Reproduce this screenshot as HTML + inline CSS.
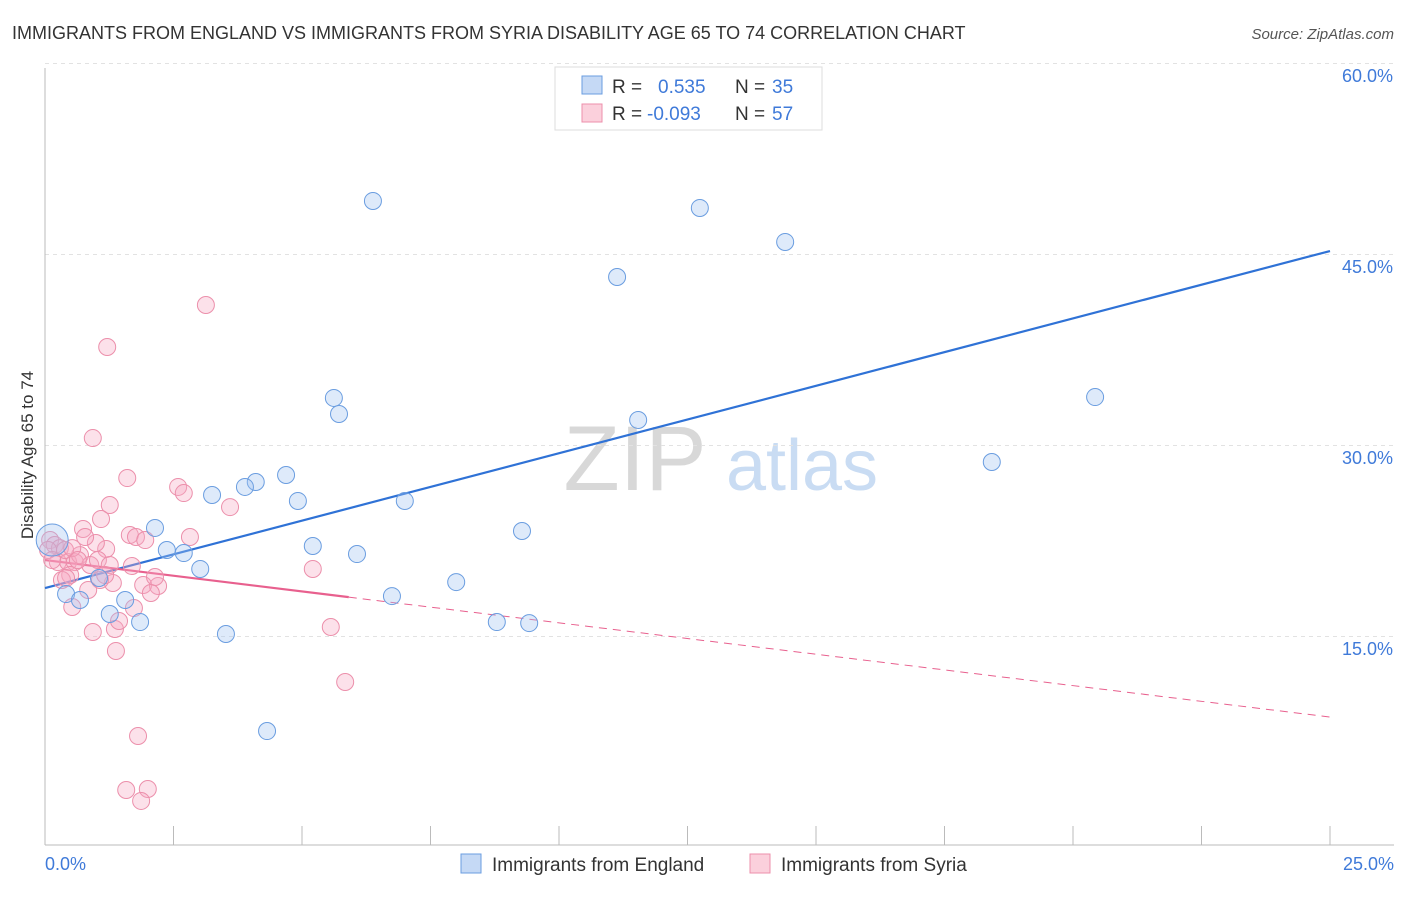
<!DOCTYPE html>
<html><head><meta charset="utf-8"><style>
body{margin:0;background:#fff;font-family:"Liberation Sans",sans-serif;}
svg text{font-family:"Liberation Sans",sans-serif;}
</style></head><body>
<svg id="chart" width="1406" height="892" xmlns="http://www.w3.org/2000/svg">
<text x="12" y="39" font-size="18" fill="#333">IMMIGRANTS FROM ENGLAND VS IMMIGRANTS FROM SYRIA DISABILITY AGE 65 TO 74 CORRELATION CHART</text>
<text x="1394" y="39" font-size="15" fill="#555" text-anchor="end" font-style="italic">Source: ZipAtlas.com</text>
<g>
<text x="635" y="490" font-size="92" fill="#d8d8d8" font-family="Liberation Serif" text-anchor="middle">ZIP</text>
<text x="802" y="490" font-size="72" fill="#c9dcf3" text-anchor="middle">atlas</text>
</g>
<g id="grid"></g>
<g id="axes"></g>
<text transform="translate(33,455) rotate(-90)" font-size="17" fill="#333" text-anchor="middle">Disability Age 65 to 74</text>
<g id="trends"></g>
<g id="points"></g>
<g>
<rect x="555" y="67" width="267" height="63" fill="#fff" stroke="#ddd"/>
<rect x="582" y="76" width="20" height="18" fill="#c5d9f5" stroke="#6a9de0"/>
<rect x="582" y="104" width="20" height="18" fill="#fbd0dc" stroke="#ec8fab"/>
<text x="612" y="93" font-size="19" fill="#333">R =</text>
<text x="658" y="93" font-size="19" fill="#3f7ad9">0.535</text>
<text x="735" y="93" font-size="19" fill="#333">N =</text>
<text x="772" y="93" font-size="19" fill="#3f7ad9">35</text>
<text x="612" y="120" font-size="19" fill="#333">R =</text>
<text x="647" y="120" font-size="19" fill="#3f7ad9">-0.093</text>
<text x="735" y="120" font-size="19" fill="#333">N =</text>
<text x="772" y="120" font-size="19" fill="#3f7ad9">57</text>
</g>
<g>
<rect x="461" y="854" width="20" height="19" fill="#c5d9f5" stroke="#6a9de0"/>
<text x="492" y="871" font-size="19" fill="#333">Immigrants from England</text>
<rect x="750" y="854" width="20" height="19" fill="#fbd0dc" stroke="#ec8fab"/>
<text x="781" y="871" font-size="19" fill="#333">Immigrants from Syria</text>
</g>
</svg>
<script>
const englandX=[6.38,12.74,14.40,11.13,20.43,5.62,5.72,11.54,18.42,4.69,4.10,3.89,3.25,4.92,7.00,9.28,2.14,5.21,2.37,2.70,6.07,3.02,8.00,1.05,0.41,0.68,6.75,1.56,1.26,1.85,8.79,9.42,3.52,4.32,0.14];
const englandY=[50.58,50.03,47.36,44.61,35.18,35.11,33.85,33.38,30.08,29.06,28.51,28.12,27.49,27.02,27.02,24.66,24.90,23.48,23.17,22.93,22.85,21.68,20.65,20.97,19.71,19.24,19.55,19.24,18.14,17.51,17.51,17.43,16.57,8.95,23.95];
const syriaX=[0.93,3.13,1.21,1.60,2.59,2.70,3.60,1.26,1.09,0.74,1.65,1.77,1.95,2.82,1.19,0.99,0.78,1.69,1.91,2.20,2.14,2.06,1.32,0.53,0.93,1.36,1.38,1.73,1.44,5.21,5.56,5.84,1.81,1.58,2.00,1.87,0.10,0.19,0.29,0.06,0.25,0.45,0.58,0.68,0.49,0.88,1.03,1.26,1.07,0.84,0.33,0.39,0.53,0.64,0.14,0.41,1.17];
const syriaY=[31.96,42.41,39.11,28.82,28.12,27.64,26.54,26.70,25.60,24.82,24.35,24.19,23.95,24.19,23.25,23.72,24.19,21.91,20.42,20.34,21.05,19.79,20.58,18.69,16.73,16.96,15.24,18.61,17.59,21.68,17.12,12.80,8.56,4.32,4.40,3.46,23.95,23.56,23.32,23.17,22.22,22.22,22.22,22.77,21.20,21.99,22.38,21.99,20.81,20.03,20.81,23.17,23.32,22.38,22.38,20.97,21.20];
const yTicks=[15,30,45,60];
const yTickLabels=["15.0%","30.0%","45.0%","60.0%"];
const xTicks=[0,2.5,5,7.5,10,12.5,15,17.5,20,22.5,25];
const englandTrend=[20.18,46.65];
const syriaTrend=[22.38,10.05];
const syriaSolidEnd=5.91;

const NS="http://www.w3.org/2000/svg";
const X=v=>45+v/25*1285;
const Y=v=>845-v*12.733;
function mk(tag,attrs,parent){const e=document.createElementNS(NS,tag);for(const k in attrs)e.setAttribute(k,attrs[k]);parent.appendChild(e);return e;}
const grid=document.getElementById('grid'),axes=document.getElementById('axes');
yTicks.forEach((t,i)=>{
 const l=mk('line',{x1:45,x2:1394,y1:Y(t)-17.5,y2:Y(t)-17.5,stroke:'#e2e2e2','stroke-dasharray':'4,4'},grid);
 
 
 const tx=mk('text',{x:1393,y:Y(t)+1,'font-size':18,fill:'#3f7ad9','text-anchor':'end'},axes);
 tx.textContent=yTickLabels[i];
 
 
});
const yAx=mk('line',{x1:45,x2:45,y1:68,y2:845,stroke:'#bbb'},axes);


const xAx=mk('line',{x1:45,x2:1394,y1:845,y2:845,stroke:'#bbb'},axes);


xTicks.forEach(t=>{const l=mk('line',{x1:X(t),x2:X(t),y1:826,y2:845,stroke:'#bbb'},axes);
 
 });
const x0=mk('text',{x:45,y:870,'font-size':18,fill:'#3f7ad9'},axes);x0.textContent='0.0%';


const x1=mk('text',{x:1394,y:870,'font-size':18,fill:'#3f7ad9','text-anchor':'end'},axes);x1.textContent='25.0%';



const pts=document.getElementById('points');
syriaX.forEach((v,i)=>{const c=mk('circle',{cx:X(v),cy:Y(syriaY[i]),r:8.5,fill:'rgba(246,170,195,0.35)',stroke:'#ec8fab','stroke-width':1},pts);
 
 });
englandX.forEach((v,i)=>{const c=mk('circle',{cx:X(v),cy:Y(englandY[i]),r:i===englandX.length-1?16:8.5,fill:'rgba(160,195,240,0.35)',stroke:'#6a9de0','stroke-width':1},pts);
 
 });

const tr=document.getElementById('trends');
const bl=mk('line',{x1:X(0),y1:Y(englandTrend[0]),x2:X(25),y2:Y(englandTrend[1]),stroke:'#2f72d6','stroke-width':2.2},tr);


const sy=v=>syriaTrend[0]+(syriaTrend[1]-syriaTrend[0])*v/25;
const ps=mk('line',{x1:X(0),y1:Y(sy(0)),x2:X(syriaSolidEnd),y2:Y(sy(syriaSolidEnd)),stroke:'#e8608e','stroke-width':2.2},tr);


const pd=mk('line',{x1:X(syriaSolidEnd),y1:Y(sy(syriaSolidEnd)),x2:X(25),y2:Y(sy(25)),stroke:'#e8608e','stroke-width':1,'stroke-dasharray':'8,6'},tr);


</script>
</body></html>
